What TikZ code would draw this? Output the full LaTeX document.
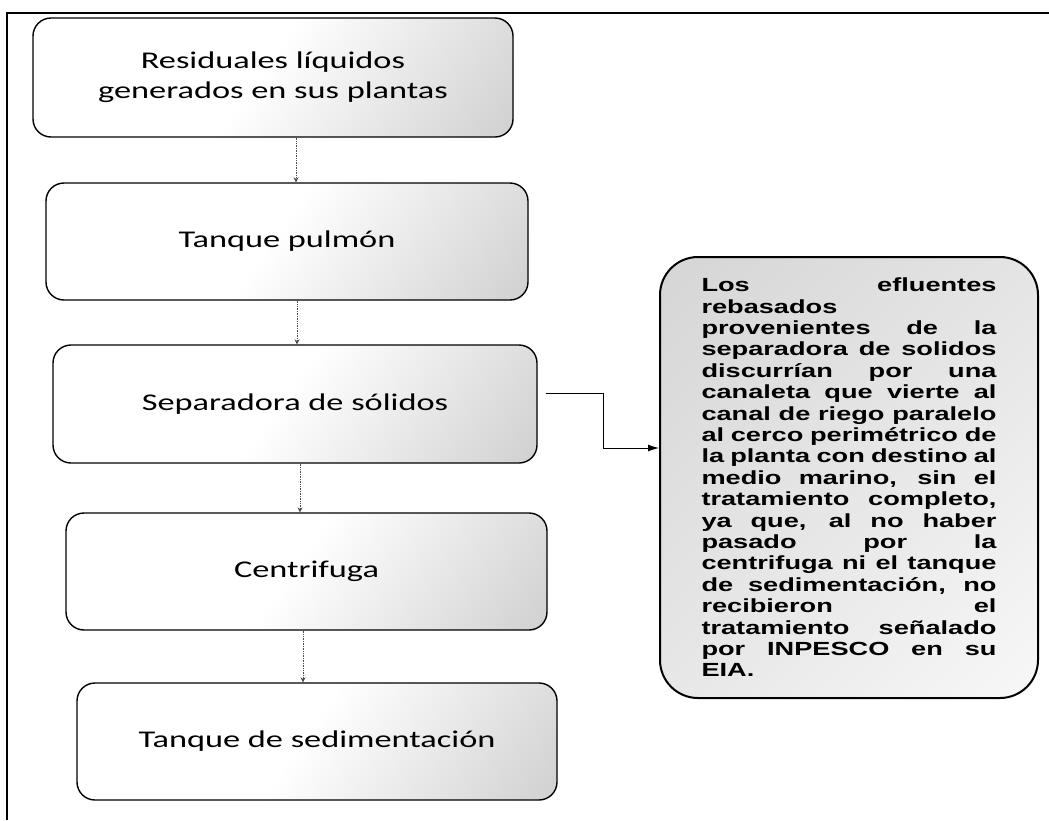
\documentclass[tikz,border=0pt]{standalone}
\usepackage{fontspec}
\setmainfont{Carlito}
\newfontfamily\lboxfont[FakeStretch=1.43]{Carlito}
\newfontfamily\rboxfont[FakeStretch=1.43]{Liberation Sans}
\usetikzlibrary{arrows.meta}
\newcommand{\jl}[1]{\leavevmode\hbox to 295pt{\spaceskip=5pt plus 1fil minus 2pt\relax #1}}
\pgfdeclarehorizontalshading{boxsh}{100bp}{color(0bp)=(white); color(48bp)=(white); color(100bp)=(black!26)}
\pgfdeclarehorizontalshading{rsh}{100bp}{color(0bp)=(black!19); color(55bp)=(black!9); color(100bp)=(white)}
\tikzset{
  procbox/.style={draw=black, line width=1.4pt, rounded corners=18pt, shading=boxsh, shading angle=-35,
    align=center, inner sep=0pt, font=\lboxfont\fontsize{24}{30}\selectfont},
  notebox/.style={draw=black, line width=2pt, rounded corners=38pt, shading=rsh, shading angle=-45,
    align=left, inner sep=0pt, text width=295pt, font=\rboxfont\bfseries\fontsize{19}{21.4}\selectfont},
  flow/.style={draw=black!70, densely dotted, line width=0.7pt, -{Stealth[length=5pt,width=5pt]}},
  conn/.style={draw=black, line width=0.9pt, -{Latex[length=11pt,width=7pt]}},
  framel/.style={draw=black, line width=1.6pt}
}
\begin{document}
\begin{tikzpicture}[x=1pt,y=-1pt]
\useasboundingbox (0,0) rectangle (1049,820);
\fill[white] (0,0) rectangle (1049,820);
\coordinate (fa) at (7,820);
\coordinate (fb) at (7,13);
\coordinate (fc) at (1049,13);
\draw[framel] (fa) -- (fb) -- (fc);

\node[procbox, minimum width=480pt, minimum height=119pt] (n1) at (273,77.5) {Residuales líquidos\\generados en sus plantas};
\node[procbox, minimum width=482pt, minimum height=117pt] (n2) at (287,241.5) {Tanque pulmón};
\node[procbox, minimum width=484pt, minimum height=118pt] (n3) at (295,404) {Separadora de sólidos};
\node[procbox, minimum width=481pt, minimum height=117pt] (n4) at (306.5,571.5) {Centrifuga};
\node[procbox, minimum width=480pt, minimum height=117pt] (n5) at (317,741.5) {Tanque de sedimentación};

\node[notebox, minimum width=378pt, minimum height=441pt] (nr) at (849,477.5) {%
\jl{Los efluentes}\\
rebasados\\
\jl{provenientes de la}\\
\jl{separadora de solidos}\\
\jl{discurrían por una}\\
\jl{canaleta que vierte al}\\
\jl{canal de riego paralelo}\\
\jl{al cerco perimétrico de}\\
\jl{la planta con destino al}\\
\jl{medio marino, sin el}\\
\jl{tratamiento completo,}\\
\jl{ya que, al no haber}\\
\jl{pasado por la}\\
\jl{centrifuga ni el tanque}\\
\jl{de sedimentación, no}\\
\jl{recibieron el}\\
\jl{tratamiento señalado}\\
\jl{por INPESCO en su}\\
EIA.};

\coordinate (ax1) at (296,0);
\coordinate (ax2) at (297,0);
\coordinate (ax3) at (300,0);
\coordinate (ax4) at (303,0);
\draw[flow] (n1.south -| ax1) -- (n2.north -| ax1);
\draw[flow] (n2.south -| ax2) -- (n3.north -| ax2);
\draw[flow] (n3.south -| ax3) -- (n4.north -| ax3);
\draw[flow] (n4.south -| ax4) -- (n5.north -| ax4);

\coordinate (ain) at (0,448);
\draw[conn] ([xshift=8pt,yshift=11pt]n3.east) -- ++(58,0) |- (nr.west |- ain);
\end{tikzpicture}
\end{document}
